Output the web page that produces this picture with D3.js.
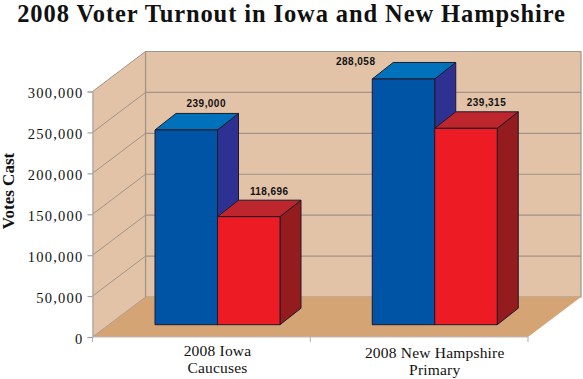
<!DOCTYPE html>
<html><head><meta charset="utf-8">
<script src="https://cdn.jsdelivr.net/npm/d3@7"></script>
<style>html,body{margin:0;padding:0;background:#fff}svg{display:block}</style></head>
<body><div id="chart"></div>
<script>
const title = "2008 Voter Turnout in Iowa and New Hampshire";
const yAxisTitle = "Votes Cast";
const categories = [["2008 Iowa","Caucuses"],["2008 New Hampshire","Primary"]];
const categoryKeys = ["Iowa","NH"];
const yTicks = [0,50000,100000,150000,200000,250000,300000];
// heights of the bars as drawn in the picture (they differ slightly from the printed labels)
const blueDrawn = [238000,300300];
const redDrawn = [132000,240000];
const blueLabels = ["239,000","288,058"];
const redLabels = ["118,696","239,315"];

const W=583,H=379;
const svg=d3.select("#chart").append("svg").attr("width",W).attr("height",H);
const serif="'Liberation Serif',serif", sans="'Liberation Sans',sans-serif";
const L=92.5,R=528,B=337,T=91.5,DX=53,DY=-40,bDX=21,bDY=-16.5,baseY=324.7;
const y=d3.scaleLinear().domain([0,300000]).range([B,T]);
const x=d3.scaleBand().domain(categoryKeys).range([L,R]);
const innerX=d3.scaleBand().domain(["blue","red"]).range([0,125]);
const barOffset=[62.5,62];
const poly=(pts,fill,stroke,sw)=>svg.append("polygon").attr("points",pts.map(p=>p.join(",")).join(" ")).attr("fill",fill).attr("stroke",stroke||"none").attr("stroke-width",sw||0).attr("stroke-linejoin","round");
const grey="#a09488", axisC="#a3a3a3";

// walls
poly([[L+DX,T+DY],[R+DX,T+DY],[R+DX,B+DY],[L+DX,B+DY]],"#e3c3a8",grey,1.2);
poly([[L,T],[L+DX,T+DY],[L+DX,B+DY],[L,B]],"#e3c3a8");
poly([[L,B],[R,B],[R+DX,B+DY],[L+DX,B+DY]],"#d4a475");
// gridlines
yTicks.forEach(t=>{
  const yy=y(t);
  if(t>0){
    svg.append("line").attr("x1",L+DX).attr("x2",R+DX).attr("y1",yy+DY).attr("y2",yy+DY).attr("stroke",grey).attr("stroke-width",1.1);
    svg.append("line").attr("x1",L).attr("x2",L+DX).attr("y1",yy).attr("y2",yy+DY).attr("stroke",grey).attr("stroke-width",1);
  }
});
svg.append("line").attr("x1",L).attr("x2",L+DX).attr("y1",B).attr("y2",B+DY).attr("stroke",grey).attr("stroke-width",.8);
svg.append("line").attr("x1",L+DX).attr("x2",L+DX).attr("y1",T+DY).attr("y2",B+DY).attr("stroke",grey).attr("stroke-width",1.2);

// axes
const yAxis=d3.axisLeft(y).tickValues(yTicks).tickFormat(d3.format(",")).tickSize(5).tickPadding(4);
const gy=svg.append("g").attr("transform",`translate(${L},0)`).call(yAxis);
gy.selectAll("path,line").attr("stroke",axisC).attr("stroke-width",1.2);
gy.selectAll("text").attr("font-family",serif).attr("font-size",14.5).attr("letter-spacing",1.25).attr("dy","0.42em").attr("fill","#111");
const gx=svg.append("g").attr("transform",`translate(0,${B})`);
gx.append("line").attr("x1",L).attr("x2",R).attr("stroke","#bdbdbd").attr("stroke-width",1);
[L,x("NH"),R].forEach(v=>gx.append("line").attr("x1",v).attr("x2",v).attr("y2",5).attr("stroke","#b0b0b0"));
categories.forEach((c,i)=>{
  const cx=x(categoryKeys[i])+barOffset[i]+innerX.bandwidth();
  c.forEach((s,j)=>svg.append("text").attr("x",cx).attr("y",[356,373][j]+(i?1.5:0)).attr("text-anchor","middle").attr("font-family",serif).attr("font-size",15.5).attr("letter-spacing",.2).attr("fill","#111").text(s));
});

// bars
const outline="#1c1a2a";
function bar(x0,w,v,front,top,side){
  const ty=baseY-(B-y(v));
  poly([[x0+w,ty],[x0+w+bDX,ty+bDY],[x0+w+bDX,baseY+bDY],[x0+w,baseY]],side,outline,1);
  poly([[x0,ty],[x0+bDX,ty+bDY],[x0+w+bDX,ty+bDY],[x0+w,ty]],top,outline,1);
  poly([[x0,ty],[x0+w,ty],[x0+w,baseY],[x0,baseY]],front,outline,1);
}
categoryKeys.forEach((k,i)=>{
  const x0=x(k)+barOffset[i], w=innerX.bandwidth();
  bar(x0+innerX("blue"),w,blueDrawn[i],"#0054a6","#0072bc","#2e3192");
  bar(x0+innerX("red"),w,redDrawn[i],"#ed1c24","#be262e","#941b1e");
});

// value labels
const lab=(xx,yy,t)=>svg.append("text").attr("x",xx).attr("y",yy).attr("text-anchor","middle").attr("font-family",sans).attr("font-weight","bold").attr("font-size",10).attr("letter-spacing",.45).attr("fill","#111").text(t);
categoryKeys.forEach((k,i)=>{
  const x0=x(k)+barOffset[i], w=innerX.bandwidth();
  const by=baseY-(B-y(blueDrawn[i])), ry=baseY-(B-y(redDrawn[i]));
  if(i===0) lab(x0+w/2+bDX-1,by+bDY-6.5,blueLabels[i]);
  else lab(x0-16.5,by+bDY+2.5,blueLabels[i]);
  lab(x0+w+w/2+bDX-.5,ry+bDY-5.5,redLabels[i]);
});

// titles
svg.append("text").attr("x",291.5).attr("y",22).attr("text-anchor","middle").attr("font-family",serif).attr("font-weight","bold").attr("font-size",24.5).attr("letter-spacing",.9).attr("fill","#111").text(title);
svg.append("text").attr("transform","translate(14,191) rotate(-90)").attr("text-anchor","middle").attr("font-family",serif).attr("font-weight","bold").attr("font-size",17).attr("fill","#111").text(yAxisTitle);
</script></body></html>
